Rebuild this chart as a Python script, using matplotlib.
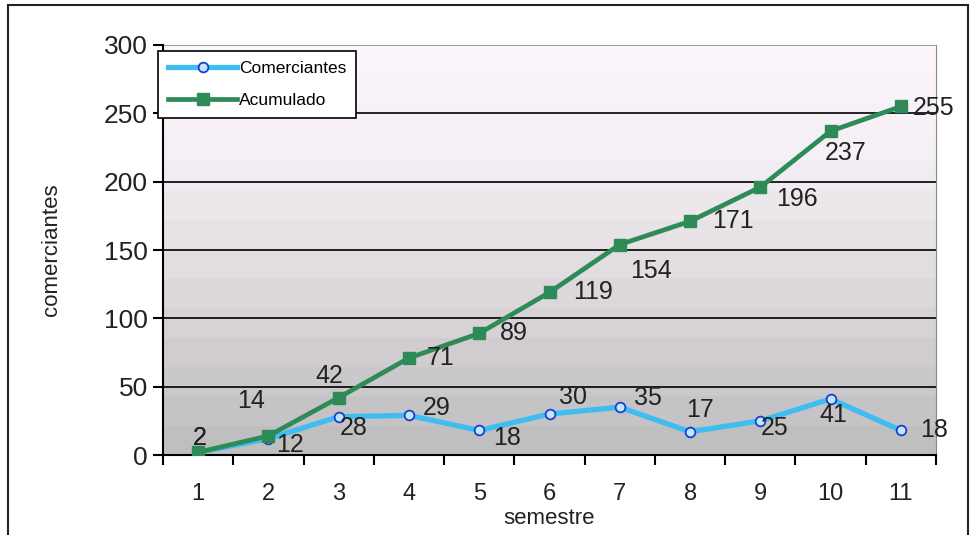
import numpy as np
import matplotlib
matplotlib.use("Agg")
from matplotlib import pyplot as plt
from matplotlib.colors import LinearSegmentedColormap

plt.rcParams['font.family'] = ['Liberation Sans', 'DejaVu Sans']

# data
semestre = [1, 2, 3, 4, 5, 6, 7, 8, 9, 10, 11]
comerciantes = [2, 12, 28, 29, 18, 30, 35, 17, 25, 41, 18]
acumulado = [2, 14, 42, 71, 89, 119, 154, 171, 196, 237, 255]

# label offsets (pixels) for the value labels
off_com = [(2, 14), (22, -6), (15, -11), (28, 7), (28, -8), (23, 17),
           (28, 9), (10, 22), (14, -7), (3, -16), (33, 0)]
off_acu = [(2, 14), (-17, 35), (-9, 22), (32, 0), (35, 0), (43, 0),
           (31, -26), (43, 0), (37, -12), (15, -22), (33, -2)]

fig = plt.figure(figsize=(9.72, 5.35), dpi=100)
ax = fig.add_axes([0.1677, 0.1495, 0.7953, 0.7664])

# outer frame
fig.patches.append(plt.Rectangle((8 / 972, -0.05), 960 / 972, 1 - 5 / 535 + 0.05,
                                 transform=fig.transFigure, fill=False,
                                 edgecolor='#222222', linewidth=1.5))

# stepped background gradient (top pinkish white -> bottom gray)
cmap = LinearSegmentedColormap.from_list('bg', ['#c0bfc0', '#d2ced2', '#e4e0e4', '#f5f0f5', '#fcf5fc'])
steps = 14
grad = np.linspace(0, 1, steps).reshape(-1, 1)
ax.imshow(grad, cmap=cmap, aspect='auto', origin='lower',
          extent=[0.5, 11.5, 0, 300], zorder=0, interpolation='nearest')

ax.set_xlim(0.5, 11.5)
ax.set_ylim(0, 300)

for yv in [50, 100, 150, 200, 250]:
    ax.axhline(yv, color='black', linewidth=1.2, zorder=1)
ax.axhline(300, color='#888888', linewidth=1.2, zorder=1)

ax.plot(semestre, comerciantes, color='#3fbdf0', linewidth=3.8, marker='o',
        markersize=7, markerfacecolor='#bfe6fa', markeredgecolor='#1a3fd0',
        markeredgewidth=1.3, label='Comerciantes', zorder=3)
ax.plot(semestre, acumulado, color='#2e8b57', linewidth=3.4, marker='s',
        markersize=8, markerfacecolor='#2e8b57', markeredgecolor='#2e8b57',
        label='Acumulado', zorder=4)

for x, v, o in zip(semestre, comerciantes, off_com):
    ax.annotate(str(v), (x, v), xytext=o, textcoords='offset pixels',
                ha='center', va='center', fontsize=18, color='#222222', zorder=5)
for x, v, o in zip(semestre, acumulado, off_acu):
    ax.annotate(str(v), (x, v), xytext=o, textcoords='offset pixels',
                ha='center', va='center', fontsize=18, color='#222222', zorder=5)

# category axis: ticks between categories, labels at centres
ax.set_xticks(np.arange(0.5, 12, 1))
ax.set_xticklabels([])
ax.set_xticks(semestre, minor=True)
ax.set_xticklabels([str(s) for s in semestre], minor=True, fontsize=17, color='#222222')
ax.tick_params(axis='x', which='major', direction='out', length=7, width=1.5)
ax.tick_params(axis='x', which='minor', length=0, pad=20)
ax.set_yticks([0, 50, 100, 150, 200, 250, 300])
ax.tick_params(axis='y', direction='out', length=7, width=1.5, labelsize=19,
               labelcolor='#222222', pad=4)

ax.spines['top'].set_visible(False)
ax.spines['right'].set_color('#888888')
ax.spines['left'].set_linewidth(1.5)
ax.spines['bottom'].set_linewidth(1.5)

ax.set_xlabel('semestre', fontsize=16, color='#222222', labelpad=2)
ax.set_ylabel('comerciantes', fontsize=16, color='#222222', labelpad=30)

leg = ax.legend(loc='upper left', bbox_to_anchor=(-0.006, 0.985), fontsize=12.5,
                frameon=True, fancybox=False, framealpha=1, edgecolor='black',
                borderaxespad=0, handlelength=4.0, handletextpad=0.1,
                borderpad=0.55, labelspacing=1.0)
leg.get_frame().set_linewidth(1.2)

fig.savefig('out.png', dpi=100)
